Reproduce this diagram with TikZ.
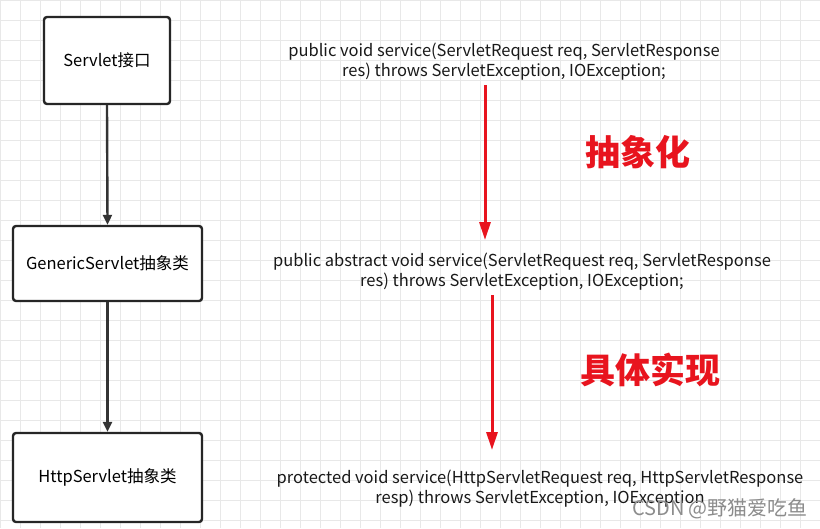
\documentclass[tikz,border=0pt]{standalone}
\usepackage{fontspec}
\setmainfont{Noto Sans CJK SC}
\usetikzlibrary{arrows.meta}
\definecolor{gridc}{HTML}{E8E8E8}
\definecolor{redc}{HTML}{E8141E}
\tikzset{
  box/.style={draw=black!85,line width=2.4pt,rounded corners=3pt,fill=white,font=\fontsize{16.5}{19}\selectfont},
  code/.style={align=center,font=\fontsize{16.5}{20}\selectfont,text=black!90},
  blk/.style={draw=black!80,line width=2.4pt,-{Triangle[length=10pt,width=9pt]}},
  red/.style={draw=redc,line width=3pt,-{Triangle[length=18pt,width=11pt]}},
  lbl/.style={text=redc,font=\fontsize{35}{38}\selectfont\bfseries}
}
\begin{document}
\begin{tikzpicture}[x=1pt,y=-1pt]
\useasboundingbox (0,0) rectangle (820,528);
\fill[white] (0,0) rectangle (820,528);
\foreach \i in {0,20,...,820} \draw[gridc,line width=0.6pt] (\i,0) -- (\i,528);
\foreach \j in {0,20,...,520} \draw[gridc,line width=0.6pt] (0,\j) -- (820,\j);
\node[box,minimum width=126pt,minimum height=87pt] (s) at (107,60.5) {Servlet接口};
\node[box,minimum width=189pt,minimum height=75pt] (g) at (107.5,263.5) {GenericServlet抽象类};
\node[box,minimum width=189pt,minimum height=89pt] (h) at (107.5,477.5) {HttpServlet抽象类};
\draw[blk] (s.south) -- (g.north);
\draw[blk] (g.south) -- (h.north);
\node[code] (c1) at (504,62) {public void service(ServletRequest req, ServletResponse\\res) throws ServletException, IOException;};
\node[code] (c2) at (522,272) {public abstract void service(ServletRequest req, ServletResponse\\res) throws ServletException, IOException;};
\node[code] (c3) at (540,489) {protected void service(HttpServletRequest req, HttpServletResponse\\resp) throws ServletException, IOException};
\coordinate (a1) at (485,85); \coordinate (b1) at (485,240);
\coordinate (a2) at (492,295); \coordinate (b2) at (492,450);
\draw[red] (a1) -- (b1);
\draw[red] (a2) -- (b2);
\node[lbl] (l1) at (638,152) {抽象化};
\node[lbl] (l2) at (650,370) {具体实现};
\node[text=black!45,font=\fontsize{20}{22}\selectfont] (w) at (720,509) {CSDN @野猫爱吃鱼};
\end{tikzpicture}
\end{document}
